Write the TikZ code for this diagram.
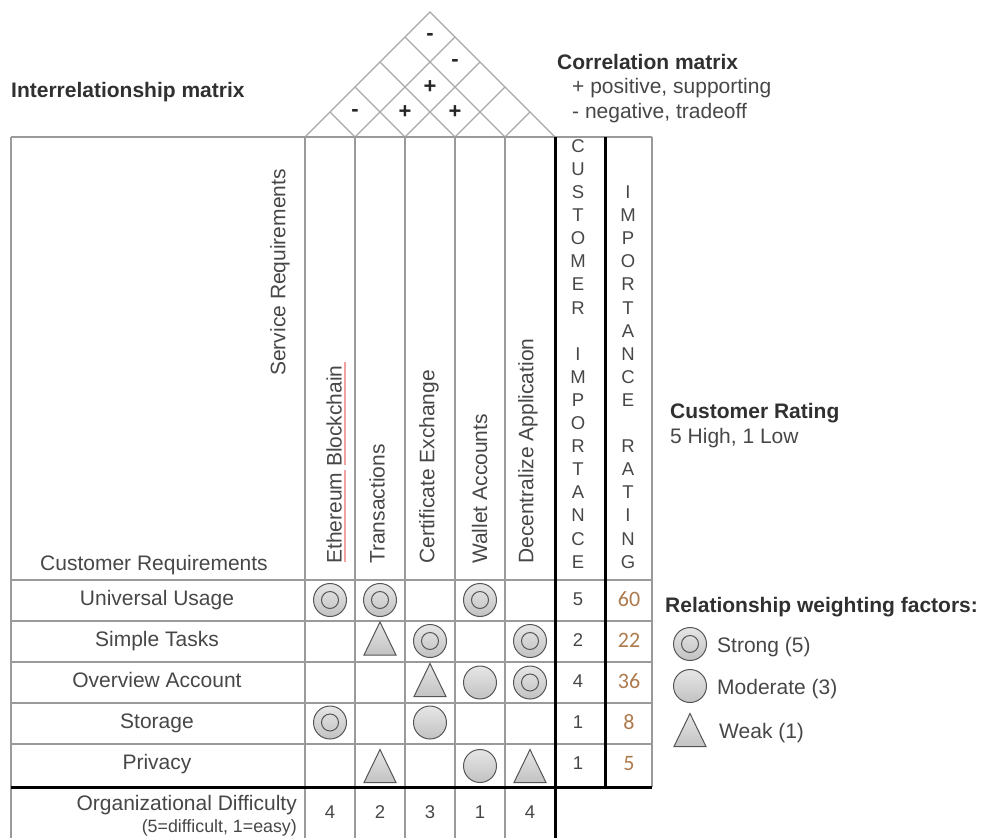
\documentclass[tikz,border=0pt]{standalone}
\usepackage{fontspec}
\setmainfont{Liberation Sans}
\newfontfamily\ratingfont{Carlito}

\definecolor{ink}{HTML}{474747}
\definecolor{headink}{HTML}{303030}
\definecolor{rule}{HTML}{9A9A9A}
\definecolor{roofrule}{HTML}{A8A8A8}
\definecolor{symtop}{HTML}{E6E6E6}
\definecolor{symbot}{HTML}{C2C2C2}
\definecolor{symedge}{HTML}{555555}
\definecolor{ratingink}{HTML}{AD7A4E}
\definecolor{spellmark}{HTML}{F2A2A2}

\tikzset{
  gridline/.style={draw=rule, line width=1.4pt},
  heavyline/.style={draw=black, line width=3pt},
  roofline/.style={draw=roofrule, line width=1.1pt},
  txt/.style={text=ink, inner sep=0pt, font=\fontsize{21}{25}\selectfont},
  headtxt/.style={text=headink, inner sep=0pt, font=\fontsize{21}{25}\selectfont\bfseries},
  smalltxt/.style={text=ink, inner sep=0pt, font=\fontsize{18.5}{22}\selectfont},
  notetxt/.style={text=ink, inner sep=0pt, font=\fontsize{17.8}{21}\selectfont},
  ratetxt/.style={text=ratingink, inner sep=0pt, font=\ratingfont\fontsize{22}{26}\selectfont},
  signtxt/.style={text=black!85, inner sep=0pt, font=\fontsize{22}{26}\selectfont\bfseries},
  symbody/.style={top color=symtop, bottom color=symbot, draw=symedge, line width=1pt},
  strongsym/.pic={
    \shadedraw[symbody] (0,0) circle (16.5pt);
    \draw[draw=symedge, line width=1pt] (0,0) circle (8.5pt);
  },
  moderatesym/.pic={\shadedraw[symbody] (0,0) circle (16.5pt);},
  weaksym/.pic={\shadedraw[symbody] (-16,16.5) -- (0,-16.5) -- (16,16.5) -- cycle;},
}

\begin{document}
\begin{tikzpicture}[x=1pt, y=-1pt]
\useasboundingbox (0,0) rectangle (983,838);

% ---------- roof (correlation matrix) ----------
\draw[roofline] (305,137) -- (430,12) -- (555,137);
\foreach \b in {355,405,455,505} {
  \draw[roofline] ({(\b+305)/2},{137-(\b-305)/2}) -- (\b,137)
                  -- ({(\b+555)/2},{137-(555-\b)/2});
}
\node[signtxt] (c12) at (355,113) {-};
\node[signtxt] (c23) at (405,112) {+};
\node[signtxt] (c34) at (455,112) {+};
\node[signtxt] (c24) at (430,87) {+};
\node[signtxt] (c25) at (455,63) {-};
\node[signtxt] (c15) at (430,37) {-};

% ---------- table rules ----------
\draw[gridline] (11,137) -- (652,137);
\draw[gridline] (11,137) -- (11,838);
\foreach \x in {305,355,405,455,505} {\draw[gridline] (\x,137) -- (\x,838);}
\draw[gridline] (652,137) -- (652,787);
\foreach \y in {580,621,662,703,744} {\draw[gridline] (11,\y) -- (652,\y);}
\draw[heavyline] (11,787) -- (652,787);
\draw[heavyline] (555,137) -- (555,838);
\draw[heavyline] (605,137) -- (605,787);

% ---------- header texts ----------
\node[headtxt, anchor=west] (interrel) at (11,92) {Interrelationship matrix};
\node[headtxt, anchor=west] (corrhead) at (557,62) {Correlation matrix};
\node[txt, anchor=west] (corrpos) at (572,88) {+ positive, supporting};
\node[txt, anchor=west] (corrneg) at (572,113) {- negative, tradeoff};

\node[txt, rotate=90, anchor=east] (servreq) at (280,169) {Service Requirements};
\node[txt, anchor=base west] (custreq) at (40,570) {Customer Requirements};

\node[txt, rotate=90, anchor=west] (h1) at (334,564) {Ethereum Blockchain};
\node[txt, rotate=90, anchor=west] (h2) at (377,564) {Transactions};
\node[txt, rotate=90, anchor=west] (h3) at (429,564) {Certificate Exchange};
\node[txt, rotate=90, anchor=west] (h4) at (479.5,564) {Wallet Accounts};
\node[txt, rotate=90, anchor=west] (h5) at (528,564) {Decentralize Application};

% spelling marks under the first column heading
\draw[draw=spellmark, line width=1.4pt] (345,362) -- (345,465);
\draw[draw=spellmark, line width=1.4pt] (345,470) -- (345,562);

% stacked letters of the two narrow columns
\foreach \ch [count=\i from 0] in {C,U,S,T,O,M,E,R}
  \node[smalltxt] (ca\i) at (578,{146+23.1*\i}) {\ch};
\foreach \ch [count=\i from 9] in {I,M,P,O,R,T,A,N,C,E}
  \node[smalltxt] (ca\i) at (578,{146+23.1*\i}) {\ch};
\foreach \ch [count=\i from 2] in {I,M,P,O,R,T,A,N,C,E}
  \node[smalltxt] (ir\i) at (628,{146+23.1*\i}) {\ch};
\foreach \ch [count=\i from 13] in {R,A,T,I,N,G}
  \node[smalltxt] (ir\i) at (628,{146+23.1*\i}) {\ch};

\node[headtxt, anchor=west] (ratehead) at (670,413) {Customer Rating};
\node[txt, anchor=west] (ratescale) at (670,438) {5 High, 1 Low};

% ---------- rows ----------
\node[txt, anchor=base] (r1) at (157,605) {Universal Usage};
\node[txt, anchor=base] (r2) at (157,646) {Simple Tasks};
\node[txt, anchor=base] (r3) at (157,687) {Overview Account};
\node[txt, anchor=base] (r4) at (157,728) {Storage};
\node[txt, anchor=base] (r5) at (157,769) {Privacy};

\foreach \v [count=\i] in {5,2,4,1,1}
  \node[smalltxt, anchor=base] (ci\i) at (578,{605+41*(\i-1)}) {\v};
\foreach \v [count=\i] in {60,22,36,8,5}
  \node[ratetxt, anchor=base] (rv\i) at (629,{606+41*(\i-1)}) {\v};

% relationship symbols
\pic at (330,600) {strongsym};
\pic at (380,600) {strongsym};
\pic at (480,600) {strongsym};

\pic at (380,638.5) {weaksym};
\pic at (430,641) {strongsym};
\pic at (530,641) {strongsym};

\pic at (430,680) {weaksym};
\pic at (480,682.5) {moderatesym};
\pic at (530,682.5) {strongsym};

\pic at (330,722.5) {strongsym};
\pic at (430,722.5) {moderatesym};

\pic at (380,766) {weaksym};
\pic at (480,766) {moderatesym};
\pic at (530,766) {weaksym};

% ---------- difficulty row ----------
\node[txt, anchor=base east] (diff) at (297,810) {Organizational Difficulty};
\node[notetxt, anchor=base east] (diffnote) at (297,832) {(5=difficult, 1=easy)};
\foreach \v [count=\i] in {4,2,3,1,4}
  \node[smalltxt] (d\i) at ({330+50*(\i-1)},812) {\v};

% ---------- legend ----------
\node[headtxt, anchor=base west] (leghead) at (665,612) {Relationship weighting factors:};
\pic at (690,644) {strongsym};
\node[txt, anchor=base west] (legstrong) at (717,652) {Strong (5)};
\pic at (690,686) {moderatesym};
\node[txt, anchor=base west] (legmod) at (717,694) {Moderate (3)};
\pic at (690,730) {weaksym};
\node[txt, anchor=base west] (legweak) at (719,738) {Weak (1)};
\end{tikzpicture}
\end{document}
